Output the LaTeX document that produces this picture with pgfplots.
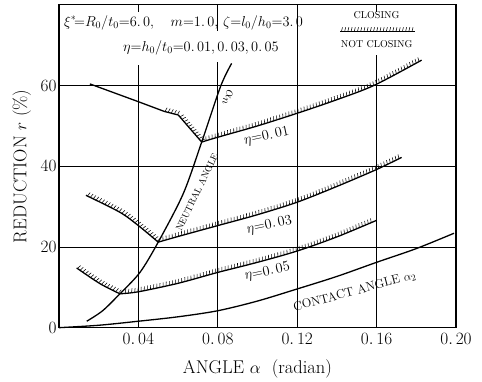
\documentclass[border=0pt]{standalone}
\usepackage{pgfplots}
\pgfplotsset{compat=1.18}
\usetikzlibrary{decorations.markings}

% short strokes on the left side of a path (the "closing" side)
\tikzset{
  hatch/.style={postaction={decorate,decoration={markings,
      mark=between positions 0.02 and 0.99 step 3.2bp with
      {\draw[line width=0.55bp,solid] (0,0.5bp) -- (0.9bp,4.2bp);}}}},
  curve/.style={line width=1.3bp, black, no markers},
}
\newcommand{\eq}{\mathord{=}}

\begin{document}
\begin{tikzpicture}
\begin{axis}[
  scale only axis,
  width=396bp, height=322bp,
  xmin=0, xmax=0.2, ymin=0, ymax=80,
  xtick={0.04,0.08,0.12,0.16,0.20},
  xticklabels={$0.\,04$,$0.\,08$,$0.\,12$,$0.\,16$,$0.\,20$},
  ytick={0,20,40,60},
  yticklabels={$0$,$20$,$40$,$60$},
  major tick length=0pt,
  axis line style={line width=1.3bp},
  tick label style={font=\fontsize{17}{20}\selectfont},
  xticklabel style={yshift=-2bp},
  yticklabel style={xshift=1bp},
  xlabel={ANGLE $\alpha$\ \ (radian)},
  ylabel={REDUCTION $r$ (\%)},
  label style={font=\fontsize{18.5}{21}\selectfont},
  xlabel style={at={(axis description cs:0.5,-0.127)}, anchor=center},
  ylabel style={at={(axis description cs:-0.094,0.5)}, anchor=center},
  clip=false,
]
% page extent
\path (axis cs:-0.0297,-12.4) rectangle (axis cs:0.2131,81.2);

% grid
\begin{scope}[line width=0.7bp]
\draw (axis cs:0,20) -- (axis cs:0.2,20);
\draw (axis cs:0,40) -- (axis cs:0.2,40);
\draw (axis cs:0,60) -- (axis cs:0.2,60);
\draw (axis cs:0.04,0) -- (axis cs:0.04,65.1);
\draw (axis cs:0.04,80) -- (axis cs:0.04,78.2);
\draw (axis cs:0.08,0) -- (axis cs:0.08,65.8);
\draw (axis cs:0.08,80) -- (axis cs:0.08,73.6);
\draw (axis cs:0.12,0) -- (axis cs:0.12,80);
\draw (axis cs:0.16,0) -- (axis cs:0.16,67.6);
\draw (axis cs:0.16,80) -- (axis cs:0.16,78.2);
\end{scope}

% eta = 0.01
\addplot[curve] coordinates {(0.0156,60.4) (0.040,56.0) (0.053,53.6)};
\addplot[curve, hatch] coordinates {(0.053,53.6) (0.0601,52.7) (0.0719,46.0)};
\addplot[curve, hatch, smooth] coordinates {
  (0.0719,46.0) (0.08,47.2) (0.10,50.0) (0.121,53.3) (0.14,56.5) (0.159,60.1) (0.1827,66.3)};

% eta = 0.03
\addplot[curve, hatch, smooth] coordinates {
  (0.0136,32.8) (0.0307,28.6) (0.040,25.3) (0.050,21.2)};
\addplot[curve, hatch, smooth] coordinates {
  (0.050,21.2) (0.06,22.6) (0.08,25.3) (0.10,28.0) (0.12,31.1) (0.14,35.0) (0.16,39.2) (0.1726,42.2)};

% eta = 0.05
\addplot[curve, hatch, smooth] coordinates {
  (0.0089,14.8) (0.0207,10.9) (0.0307,8.4)};
\addplot[curve, hatch, smooth] coordinates {
  (0.0307,8.4) (0.04,8.9) (0.06,11.0) (0.08,13.7) (0.10,16.2) (0.12,19.0) (0.14,22.5) (0.16,26.6)};

% neutral angle
\addplot[curve, smooth] coordinates {
  (0.014,1.6) (0.022,4.2) (0.0307,8.4) (0.0408,13.7) (0.050,21.2) (0.0626,33.2) (0.0719,46.0) (0.0815,59.9) (0.087,65.5)};

% contact angle
\addplot[curve, smooth] coordinates {
  (0,0) (0.02,0.6) (0.04,1.6) (0.06,2.7) (0.08,4.2) (0.10,6.6) (0.12,9.6) (0.14,12.7) (0.16,16.2) (0.18,19.6) (0.199,23.4)};

% parameters
\node[anchor=west, font=\fontsize{14.5}{16}\selectfont, inner sep=1bp] at (axis cs:0.002,75.6)
  {$\xi^{*}\!\eq R_0/t_0\eq 6.\,0,\ \ \ m\eq 1.\,0,\,\zeta\eq l_0/h_0\eq 3.\,0$};
\node[font=\fontsize{14.5}{16}\selectfont, inner sep=1bp] at (axis cs:0.0715,69.4)
  {$\eta\eq h_0/t_0\eq 0.\,01, 0.\,03, 0.\,05$};

% key
\node[font=\fontsize{10}{12}\selectfont] at (axis cs:0.160,77.4) {CLOSING};
\draw[line width=0.8bp, hatch] (axis cs:0.1416,73.4) -- (axis cs:0.1793,73.4);
\node[font=\fontsize{10}{12}\selectfont] at (axis cs:0.160,70.2) {NOT CLOSING};

% curve labels
\node[font=\fontsize{15}{17}\selectfont, rotate=-100] at (axis cs:0.0850,57.0) {$\alpha_n$};
\node[font=\fontsize{9.5}{11}\selectfont, rotate=64] at (axis cs:0.0695,33.6) {NEUTRAL ANGLE};
\node[font=\fontsize{15}{17}\selectfont, rotate=12] at (axis cs:0.1046,47.4) {$\eta\eq 0.\,01$};
\node[font=\fontsize{15}{17}\selectfont, rotate=12] at (axis cs:0.106,25.4) {$\eta\eq 0.\,03$};
\node[font=\fontsize{15}{17}\selectfont, rotate=12] at (axis cs:0.105,13.8) {$\eta\eq 0.\,05$};
\node[font=\fontsize{12.5}{14}\selectfont, rotate=15] at (axis cs:0.149,9.0) {CONTACT ANGLE $\alpha_2$};
\end{axis}
\end{tikzpicture}
\end{document}
